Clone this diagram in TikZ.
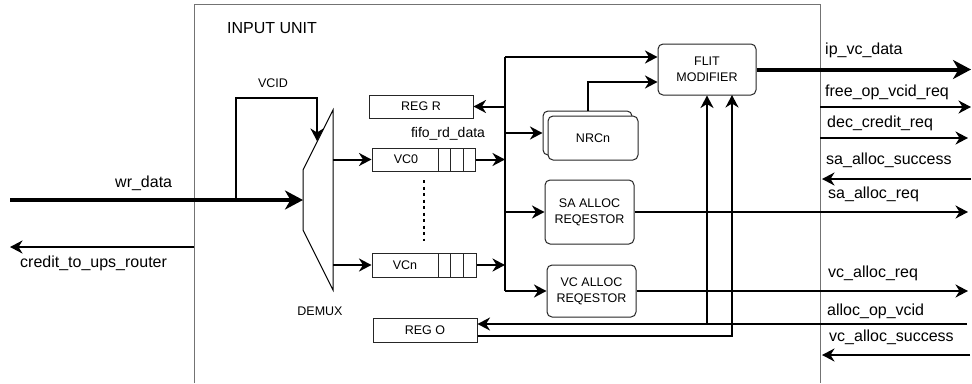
\documentclass[tikz,border=0pt]{standalone}
\usepackage{fontspec}
\setmainfont{Liberation Sans}
\usetikzlibrary{arrows.meta,calc}
\begin{document}
\begin{tikzpicture}[x=1pt,y=-1pt,
  big/.style={font=\fontsize{16}{19}\selectfont, inner sep=0pt},
  mid/.style={font=\fontsize{14}{17}\selectfont, inner sep=0pt},
  small/.style={font=\fontsize{12.5}{15}\selectfont, inner sep=0pt},
  blk/.style={draw=black!85, line width=1pt, inner sep=0pt, fill=white},
  rbox/.style={blk, rounded corners=5pt, align=center, font=\fontsize{12.5}{16}\selectfont},
  sbox/.style={blk, font=\fontsize{12.5}{15}\selectfont},
  wire/.style={line width=2pt},
  conn/.style={line width=2pt, -{Stealth[length=12.5pt,width=13pt,inset=4pt]}},
  fat/.style={line width=4pt, -{Stealth[length=18pt,width=19pt,inset=5.5pt]}},
  line join=miter]
\useasboundingbox (0,0) rectangle (972,383);

% unit boundary
\draw[black!55, line width=1pt] (194,383) -- (194,4) -- (820,4) -- (820,383);
\node[big, anchor=base west] (tunit) at (227,33) {INPUT UNIT};

% demux
\coordinate (dmTR) at (333,110);
\coordinate (dmL1) at (303,170);
\coordinate (dmL2) at (303,230);
\coordinate (dmBR) at (333,290);
\coordinate (dmIn) at (303,200);
\draw[line width=1pt] (dmTR) -- (dmL1) -- (dmL2) -- (dmBR) -- cycle;
\node[small, anchor=base] (tdemux) at (320,315) {DEMUX};

% boxes
\node[sbox, minimum width=104pt, minimum height=23pt] (regR) at (421,106.5) {REG R};
\node[sbox, minimum width=103pt, minimum height=23pt] (vc0) at (423.5,159.5) {};
\node[small] (tvc0) at (406,159.5) {VC0};
\draw[line width=0.8pt, black!85] (438,148) -- (438,171) (450.5,148) -- (450.5,171) (463,148) -- (463,171);
\node[sbox, minimum width=104pt, minimum height=24pt] (vcn) at (424,265) {};
\node[small] (tvcn) at (405,265) {VCn};
\draw[line width=0.8pt, black!85] (438,253) -- (438,277) (450.5,253) -- (450.5,277) (463,253) -- (463,277);
\node[sbox, minimum width=104pt, minimum height=24pt] (regO) at (425,330) {REG O};
\draw[line width=2.5pt, dash pattern=on 3pt off 3.5pt] (424,180) -- (424,241);

\node[rbox, minimum width=89pt, minimum height=44pt] (nrcb) at (587.5,133) {};
\node[rbox, minimum width=90pt, minimum height=44pt] (nrc) at (593,138) {NRCn};
\node[rbox, minimum width=98pt, minimum height=51pt] (flit) at (707,69.5) {FLIT\\MODIFIER};
\node[rbox, minimum width=89pt, minimum height=64pt] (sa) at (589.5,212) {SA ALLOC\\REQESTOR};
\node[rbox, minimum width=89pt, minimum height=52pt] (vca) at (591.5,291) {VC ALLOC\\REQESTOR};

% input side
\coordinate (wrS) at (10,200);
\coordinate (wrJ) at (236,200);
\coordinate (vcidT) at (317,141);
\coordinate (vcidY) at (0,98);
\draw[fat] (wrS) -- (dmIn);
\draw[conn] (wrJ) |- (vcidT |- vcidY) -- (vcidT);
\node[small, anchor=base] (tvcid) at (273,87) {VCID};
\node[big, anchor=base west] (twr) at (115,187) {wr\_data};
\coordinate (crS) at (194,247);
\coordinate (crE) at (10,247);
\draw[conn] (crS) -- (crE);
\node[big, anchor=base west] (tcr) at (20,267) {credit\_to\_ups\_router};

% demux to VCs
\draw[conn] (dmTR |- vc0.west) -- (vc0.west);
\draw[conn] (dmTR |- vcn.west) -- (vcn.west);
\node[mid, anchor=base] (tfifo) at (448,137) {fifo\_rd\_data};

% bus
\coordinate (busT) at (505,57);
\coordinate (busB) at (505,291);
\draw[wire] (busT) -- (busB);
\draw[conn] (vc0.east) -- (vc0.east -| busT);
\draw[conn] (vcn.east) -- (vcn.east -| busT);
\draw[conn] (busT) -- (busT -| flit.west);
\draw[conn] (regR.east -| busT) -- (regR.east);
\draw[conn] (nrcb.west -| busT) -- (nrcb.west);
\draw[conn] (sa.west -| busT) -- (sa.west);
\draw[conn] (busB) -- (vca.west);
\coordinate (nrcY) at (0,82);
\draw[conn] (nrcb.north) |- (flit.west |- nrcY);

% outputs
\coordinate (ipE) at (971,69.5);
\draw[fat] (flit.east) -- (ipE);
\coordinate (saE) at (968,212);
\coordinate (vcaE) at (968,291);
\draw[conn] (sa.east) -- (saE);
\draw[conn] (vca.east) -- (vcaE);

\coordinate (frS) at (820,107);   \coordinate (frE) at (971,107);
\coordinate (dcS) at (820,138);   \coordinate (dcE) at (968,138);
\coordinate (ssS) at (971,179);   \coordinate (ssE) at (822,179);
\coordinate (vsS) at (970,355);   \coordinate (vsE) at (822,355);
\coordinate (aoS) at (967,324);
\coordinate (roY) at (0,336);
\coordinate (flitIn2) at (732,95);
\draw[conn] (frS) -- (frE);
\draw[conn] (dcS) -- (dcE);
\draw[conn] (ssS) -- (ssE);
\draw[conn] (vsS) -- (vsE);
\draw[conn] (aoS) -- (regO.east |- aoS);
\draw[conn] (flit.south |- aoS) -- (flit.south);
\draw[conn] (regO.east |- roY) -| (flitIn2);

\node[big, anchor=base west] (tip) at (825,54) {ip\_vc\_data};
\node[big, anchor=base west] (tfr) at (825,96) {free\_op\_vcid\_req};
\node[big, anchor=base west] (tdc) at (827,127) {dec\_credit\_req};
\node[big, anchor=base west] (tss) at (826,164) {sa\_alloc\_success};
\node[big, anchor=base west] (tsr) at (828,198) {sa\_alloc\_req};
\node[big, anchor=base west] (tvr) at (828,277) {vc\_alloc\_req};
\node[big, anchor=base west] (tao) at (827,315) {alloc\_op\_vcid};
\node[big, anchor=base west] (tvs) at (829,341) {vc\_alloc\_success};
\end{tikzpicture}
\end{document}
